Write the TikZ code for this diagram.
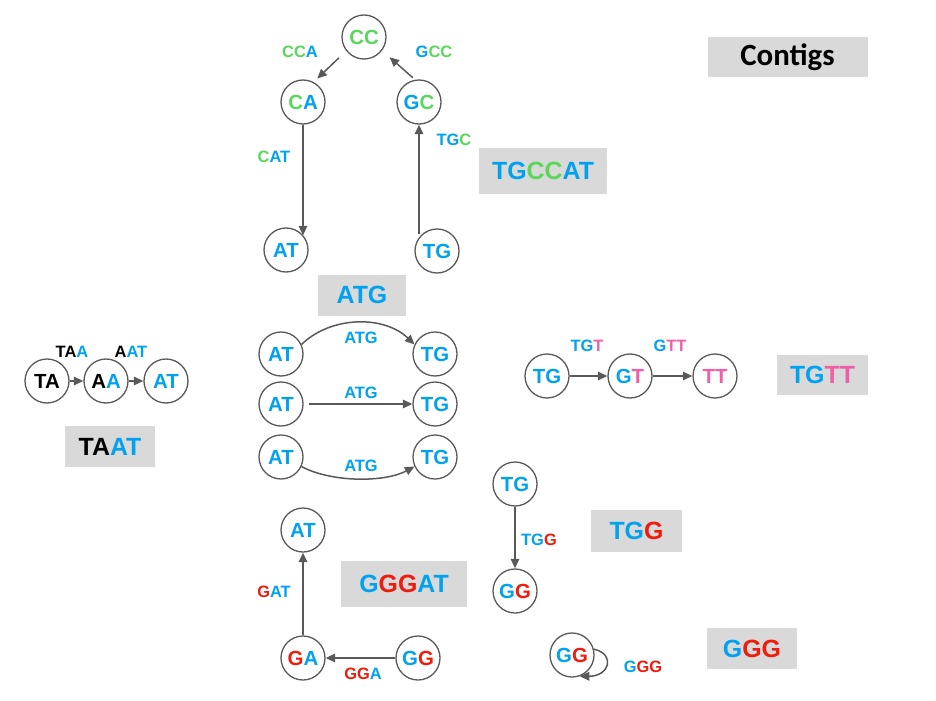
\documentclass[tikz,border=0pt]{standalone}
\usepackage{fontspec}
\setmainfont{Liberation Sans}
\newfontfamily\calfont{Carlito}
\usetikzlibrary{arrows.meta}

\definecolor{seqblue}{HTML}{00A2F0}
\definecolor{seqgreen}{HTML}{5AD75A}
\definecolor{seqred}{HTML}{EE1C0C}
\definecolor{seqpink}{HTML}{EE5FA7}
\definecolor{edgegray}{HTML}{595959}
\definecolor{boxgray}{HTML}{D9D9D9}

\newcommand{\colB}[1]{\textcolor{seqblue}{#1}}
\newcommand{\colG}[1]{\textcolor{seqgreen}{#1}}
\newcommand{\colR}[1]{\textcolor{seqred}{#1}}
\newcommand{\colP}[1]{\textcolor{seqpink}{#1}}

\begin{document}
\begin{tikzpicture}[x=1bp, y=-1bp,
  kmer/.style={circle, draw=edgegray, line width=1.3bp, minimum size=44bp, inner sep=0pt, font=\fontsize{20.5}{24}\selectfont\bfseries},
  elabel/.style={inner sep=0pt, font=\fontsize{16.5}{19}\selectfont\bfseries},
  contig/.style={fill=boxgray, inner sep=0pt, font=\fontsize{25}{30}\selectfont\bfseries},
  link/.style={draw=edgegray, line width=1.5bp, -{Triangle[length=9.5bp, width=8.5bp]}}]
  \useasboundingbox (0,0) rectangle (936,701);

  % --- Cycle TGCCAT ---
  \node[kmer] (cc) at (364,37) {\colG{CC}};
  \node[kmer] (ca) at (303,102) {\colG{C}\colB{A}};
  \node[kmer] (gc) at (419,102) {\colB{G}\colG{C}};
  \node[kmer] (atA) at (286,250) {\colB{AT}};
  \node[kmer] (tgA) at (437,251) {\colB{TG}};

  \draw[link, shorten <=10bp, shorten >=5bp] (cc.218) -- (ca.62);
  \draw[link, shorten <=3bp, shorten >=10bp] (gc.100) -- (cc.-37);
  \draw[link] (ca.south) -- (ca.south |- atA.40);
  \draw[link] (gc.south |- tgA.130) -- (gc.south);

  \node[elabel] (lblCCA) at (300,52) {\colG{CC}\colB{A}};
  \node[elabel] (lblGCC) at (434,52) {\colB{G}\colG{CC}};
  \node[elabel] (lblCAT) at (274,157) {\colG{C}\colB{AT}};
  \node[elabel] (lblTGC) at (454,140) {\colB{TG}\colG{C}};

  % --- TAAT ---
  \node[kmer] (ta) at (47,381) {TA};
  \node[kmer] (aa) at (106,381) {A\colB{A}};
  \node[kmer] (atL) at (166,381) {\colB{AT}};
  \draw[link] (ta) -- (aa);
  \draw[link] (aa) -- (atL);
  \node[elabel] (lblTAA) at (72,352) {TA\colB{A}};
  \node[elabel] (lblAAT) at (131,352) {A\colB{AT}};

  % --- ATG repeats ---
  \node[kmer] (atB1) at (281,354) {\colB{AT}};
  \node[kmer] (tgB1) at (435,354) {\colB{TG}};
  \node[kmer] (atB2) at (281,404) {\colB{AT}};
  \node[kmer] (tgB2) at (435,404) {\colB{TG}};
  \node[kmer] (atB3) at (281,457) {\colB{AT}};
  \node[kmer] (tgB3) at (435,457) {\colB{TG}};
  \draw[link] (atB1.25) .. controls +(30,-29) and +(-30,-29) .. (tgB1.155);
  \draw[link, shorten <=5bp] (atB2) -- (tgB2);
  \draw[link] (atB3.-25) .. controls +(30,16) and +(-30,16) .. (tgB3.205);
  \node[elabel] (lblATG1) at (361,338) {\colB{ATG}};
  \node[elabel] (lblATG2) at (361,393) {\colB{ATG}};
  \node[elabel] (lblATG3) at (361,466) {\colB{ATG}};

  % --- TGTT ---
  \node[kmer] (tgR) at (547,376) {\colB{TG}};
  \node[kmer] (gtR) at (630,376) {\colB{G}\colP{T}};
  \node[kmer] (ttR) at (715,376) {\colP{TT}};
  \draw[link] (tgR) -- (gtR);
  \draw[link] (gtR) -- (ttR);
  \node[elabel] (lblTGT) at (587,346) {\colB{TG}\colP{T}};
  \node[elabel] (lblGTT) at (670,346) {\colB{G}\colP{TT}};

  % --- TGG ---
  \node[kmer] (tgD) at (515,484) {\colB{TG}};
  \node[kmer] (ggD) at (515,591) {\colB{G}\colR{G}};
  \draw[link] (tgD) -- (ggD);
  \node[elabel] (lblTGG) at (539,540) {\colB{TG}\colR{G}};

  % --- GGG ---
  \node[kmer] (ggS) at (572,655) {\colB{G}\colR{G}};
  \draw[link] (ggS.15) .. controls +(22,5) and +(30,0) .. (ggS.-70);
  \node[elabel] (lblGGG) at (643,667) {\colB{G}\colR{GG}};

  % --- GGGAT ---
  \node[kmer] (atE) at (303,530) {\colB{AT}};
  \node[kmer] (ga) at (303,658) {\colR{G}\colB{A}};
  \node[kmer] (ggE) at (418,658) {\colB{G}\colR{G}};
  \draw[link] (ga) -- (atE);
  \draw[link] (ggE) -- (ga);
  \node[elabel] (lblGAT) at (274,592) {\colR{G}\colB{AT}};
  \node[elabel] (lblGGA) at (363,674) {\colR{GG}\colB{A}};

  % --- Contigs ---
  \node[contig, minimum width=160bp, minimum height=40bp, font=\fontsize{31}{36}\selectfont\calfont\bfseries] (boxContigs) at (787.5,57.5) {Contigs};
  \node[contig, minimum width=128bp, minimum height=46bp] (boxTGCCAT) at (543,171) {\colB{TG}\colG{CC}\colB{AT}};
  \node[contig, minimum width=88bp, minimum height=41bp] (boxATG) at (362,295) {\colB{ATG}};
  \node[contig, minimum width=90bp, minimum height=41bp] (boxTAAT) at (110,446.5) {TA\colB{AT}};
  \node[contig, minimum width=91bp, minimum height=40bp] (boxTGTT) at (822.5,375) {\colB{TG}\colP{TT}};
  \node[contig, minimum width=91bp, minimum height=42bp] (boxTGG) at (636.5,531) {\colB{TG}\colR{G}};
  \node[contig, minimum width=90bp, minimum height=41bp] (boxGGG) at (752,648.5) {\colB{G}\colR{GG}};
  \node[contig, minimum width=126bp, minimum height=46bp] (boxGGGAT) at (404,584) {\colB{G}\colR{GG}\colB{AT}};
\end{tikzpicture}
\end{document}
